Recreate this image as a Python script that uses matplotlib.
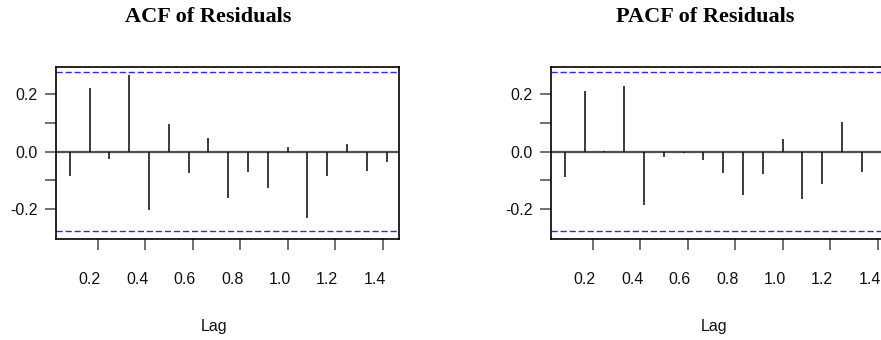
import numpy as np
import matplotlib
matplotlib.use("Agg")
from matplotlib import pyplot as plt
from matplotlib.transforms import ScaledTranslation

# lags in years (monthly data, lag k/12)
lags = np.arange(1, 18) / 12.0

acf_vals = [-0.085, 0.221, -0.027, 0.267, -0.203, 0.097, -0.073, 0.047, -0.163,
            -0.070, -0.128, 0.017, -0.233, -0.085, 0.027, -0.066, -0.037]
pacf_vals = [-0.087, 0.213, 0.003, 0.229, -0.186, -0.020, -0.006, -0.029, -0.073,
             -0.150, -0.079, 0.045, -0.166, -0.113, 0.105, -0.071, 0.053]

conf = 0.277
xticks = [0.2, 0.4, 0.6, 0.8, 1.0, 1.2, 1.4]
yticks = [-0.2, -0.1, 0.0, 0.1, 0.2]
ylabels = ["-0.2", "", "0.0", "", "0.2"]

titles = ["ACF of Residuals", "PACF of Residuals"]

fig = plt.figure(figsize=(8.81, 3.4), dpi=100)

W, H = 881.0, 340.0
# axes boxes in pixels: left, top, width, height
boxes = [(56, 67, 343, 172), (551, 67, 343, 172)]
title_x = [208, 705]
lag_x = [214, 714]

for i, vals in enumerate([acf_vals, pacf_vals]):
    l, t, w, h = boxes[i]
    ax = fig.add_axes([l / W, 1 - (t + h) / H, w / W, h / H])

    ax.axhline(0, color="#505050", lw=1.6, zorder=1)
    ax.vlines(lags, 0, vals, color="#111111", lw=1.15, zorder=2)
    ax.axhline(conf, color="#2a2aff", lw=1.0, dashes=(4.5, 2.0), zorder=1)
    ax.axhline(-conf, color="#2a2aff", lw=1.0, dashes=(4.5, 2.0), zorder=1)

    ax.set_xlim(0.025, 1.469)
    ax.set_ylim(-0.305, 0.296)
    ax.set_xticks(xticks)
    ax.set_xticklabels(["%.1f" % v for v in xticks])
    ax.set_yticks(yticks)
    ax.set_yticklabels(ylabels)

    for s in ax.spines.values():
        s.set_color("black")
        s.set_linewidth(1.2)

    ax.tick_params(axis="both", direction="out", color="#707070", width=1.4,
                   length=8, labelsize=11.5, labelcolor="#111111")
    ax.tick_params(axis="x", pad=16)
    ax.tick_params(axis="y", pad=5)

    off = ScaledTranslation(-8 / 100.0, 0, fig.dpi_scale_trans)
    for lab in ax.get_xticklabels():
        lab.set_transform(lab.get_transform() + off)
        lab.set_fontfamily("Liberation Sans")
    for lab in ax.get_yticklabels():
        lab.set_fontfamily("Liberation Sans")

    fig.text(title_x[i] / W, 1 - 17 / H, titles[i], ha="center", va="center",
             fontsize=16, fontweight="bold", family="Liberation Serif")
    fig.text(lag_x[i] / W, 1 - 326 / H, "Lag", ha="center", va="center",
             fontsize=11.5, family="Liberation Sans", color="#111111")

plt.savefig("out.png", dpi=100)
plt.close()
